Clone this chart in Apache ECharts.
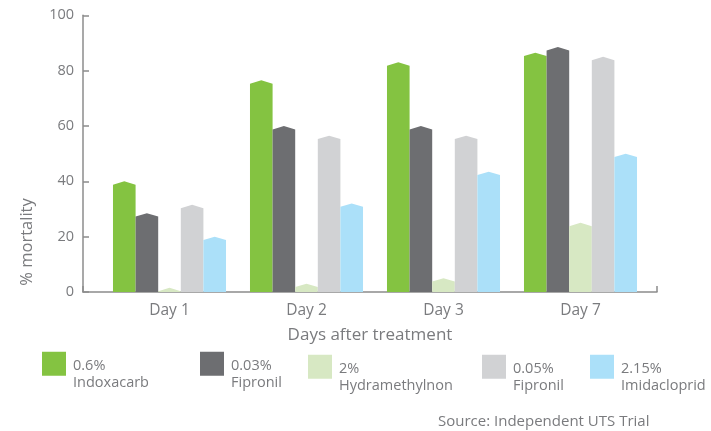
<!DOCTYPE html>
<html>
<head>
<meta charset="utf-8">
<script src="https://cdn.jsdelivr.net/npm/echarts@6/dist/echarts.min.js"></script>
<style>html,body{margin:0;padding:0;background:#fff;}#c{width:711px;height:431px;}</style>
</head>
<body>
<div id="c"></div>
<script>
var categories = ['Day 1', 'Day 2', 'Day 3', 'Day 7'];
var seriesNames = ['0.6%\nIndoxacarb', '0.03%\nFipronil', '2%\nHydramethylnon', '0.05%\nFipronil', '2.15%\nImidacloprid'];
var indoxacarb = [40, 76.5, 83, 86.5];
var fipronil003 = [28.5, 60, 60, 88.5];
var hydramethylnon = [1.5, 3, 5, 25];
var fipronil005 = [31.5, 56.5, 56.5, 85];
var imidacloprid = [20, 32, 43.5, 50];
var yTicks = [0, 20, 40, 60, 80, 100];
var colors = ['#84c341', '#6d6e71', '#d7e8c3', '#d1d2d4', '#abe0f9'];
var allValues = [indoxacarb, fipronil003, hydramethylnon, fipronil005, imidacloprid];

var FONT = '"Open Sans"';
var TXT = '#7a7b7e';
var AX = '#8c8c8c';

function makeRender(si) {
  return function (params, api) {
    var cat = api.value(0), v = api.value(1);
    var top = api.coord([cat, v]);
    var base = api.coord([cat, 0]);
    var band = api.size([1, 0])[0];
    var bw = band * 0.165;
    var cx = top[0] + (si - 2) * bw;
    var x0 = cx - bw / 2, x1 = cx + bw / 2;
    var shoulder = Math.min(top[1] + 3.4, base[1]);
    return {
      type: 'polygon',
      shape: { points: [[x0, base[1]], [x0, shoulder], [cx, top[1]], [x1, shoulder], [x1, base[1]]] },
      style: { fill: colors[si] }
    };
  };
}

var series = allValues.map(function (vals, si) {
  return {
    type: 'custom',
    name: seriesNames[si],
    xAxisIndex: 0, yAxisIndex: 0,
    itemStyle: { color: colors[si] },
    data: vals.map(function (v, i) { return [i, v]; }),
    renderItem: makeRender(si)
  };
});

var legendPos = [[42, 353], [200, 353], [308, 356], [482, 356], [590, 356]];
var LFS = 14.5;
var legends = seriesNames.map(function (n, i) {
  return {
    data: [n], left: legendPos[i][0], top: legendPos[i][1] - 16, padding: 0,
    icon: 'rect', itemWidth: 24, itemHeight: 24, selectedMode: false,
    formatter: function (name) {
      var p = name.split('\n');
      return '{a|' + p[0] + '}\n{b|' + p[1] + '}';
    },
    textStyle: {
      fontFamily: FONT, fontSize: LFS, color: TXT,
      rich: {
        a: { fontFamily: FONT, fontSize: LFS, color: TXT, lineHeight: 38.5, padding: [21, 0, 0, 2] },
        b: { fontFamily: FONT, fontSize: LFS, color: TXT, lineHeight: 17.5, padding: [0, 0, 0, 2] }
      }
    }
  };
});

var chart = echarts.init(document.getElementById('c'));
chart.setOption({
  animation: false,
  backgroundColor: '#fff',
  grid: [
    { left: 101, width: 548, top: 15.3, bottom: 139 },
    { left: 83, right: 54, top: 15.3, bottom: 139 }
  ],
  xAxis: [
    { type: 'category', gridIndex: 0, data: categories,
      axisLine: { show: false }, axisTick: { show: false },
      axisLabel: { margin: 11, fontFamily: FONT, fontSize: 15.5, color: TXT } },
    { type: 'value', gridIndex: 1, min: 0, max: 1, interval: 1,
      axisLine: { show: true, lineStyle: { color: AX, width: 1.5 } },
      axisTick: { show: true, inside: true, length: 6, lineStyle: { color: AX, width: 1.5 } },
      axisLabel: { show: false }, splitLine: { show: false },
      name: 'Days after treatment', nameLocation: 'middle', nameGap: 35,
      nameTextStyle: { fontFamily: FONT, fontSize: 17, color: TXT } }
  ],
  yAxis: [
    { type: 'value', gridIndex: 0, min: 0, max: 100, show: false },
    { type: 'value', gridIndex: 1, min: 0, max: 100, interval: 20,
      axisLine: { show: true, lineStyle: { color: AX, width: 1.5 } },
      axisTick: { show: true, inside: true, length: 6, lineStyle: { color: AX, width: 1.5 } },
      splitLine: { show: false },
      axisLabel: { margin: 9, fontFamily: FONT, fontSize: 14.5, color: TXT,
        formatter: function (v) { return yTicks.indexOf(v) >= 0 ? String(v) : ''; } } }
  ],
  legend: legends,
  graphic: [
    { type: 'text', x: 27, y: 242, rotation: Math.PI / 2,
      style: { text: '% mortality', fontFamily: FONT, fontSize: 16.5, fill: TXT, align: 'center', verticalAlign: 'middle' } },
    { type: 'text', x: 438, y: 422,
      style: { text: 'Source: Independent UTS Trial', fontFamily: FONT, fontSize: 15, fill: TXT, align: 'left', verticalAlign: 'middle' } }
  ],
  series: series
});
</script>
</body>
</html>
